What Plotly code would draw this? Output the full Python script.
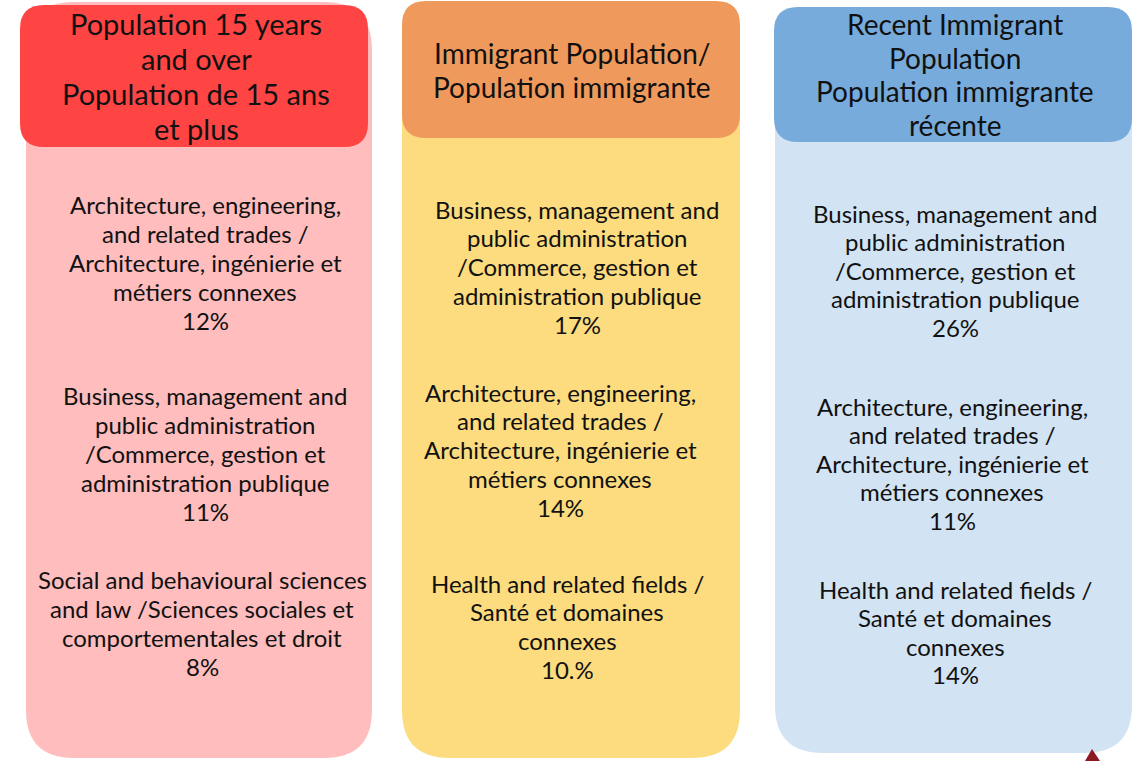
import plotly.graph_objects as go

# ---- data ----
groups = [
    "Population 15 years\nand over\nPopulation de 15 ans\net plus",
    "Immigrant Population/\nPopulation immigrante",
    "Recent Immigrant\nPopulation\nPopulation immigrante\nrécente",
]

fields_pop15 = [
    "Architecture, engineering,\nand related trades /\nArchitecture, ingénierie et\nmétiers connexes",
    "Business, management and\npublic administration\n/Commerce, gestion et\nadministration publique",
    "Social and behavioural sciences\nand law /Sciences sociales et\ncomportementales et droit",
]
pct_pop15 = ["12%", "11%", "8%"]

fields_immigrant = [
    "Business, management and\npublic administration\n/Commerce, gestion et\nadministration publique",
    "Architecture, engineering,\nand related trades /\nArchitecture, ingénierie et\nmétiers connexes",
    "Health and related fields /\nSanté et domaines\nconnexes",
]
pct_immigrant = ["17%", "14%", "10.%"]

fields_recent = [
    "Business, management and\npublic administration\n/Commerce, gestion et\nadministration publique",
    "Architecture, engineering,\nand related trades /\nArchitecture, ingénierie et\nmétiers connexes",
    "Health and related fields /\nSanté et domaines\nconnexes",
]
pct_recent = ["26%", "11%", "14%"]

# ---- layout / styling (pixel space) ----
W, H = 1145, 761
body_colors = ["#FFBDBD", "#FCDC7E", "#D2E3F3"]
head_colors = ["#FF4444", "#F0995C", "#77ABDC"]
body_boxes = [(26, 2, 372, 758), (402, 60, 740, 758), (775, 60, 1132, 753)]
head_boxes = [(20, 5, 368, 147), (402, 1, 740, 138), (774, 7, 1132, 142)]
head_x = [196, 572, 955]
head_y0 = [23, 53, 24]
head_step = [35, 34, 33.5]
head_size = [29, 28, 28]
block_x = [[205, 205, 202], [577, 560, 567], [955, 952, 955]]
block_y0 = [[204, 395, 579], [209, 392, 583], [213, 406, 589]]
block_step = [29, 28.8, 28.5]

FONT = "Lato, 'Open Sans', sans-serif"


def rounded(x0, y0, x1, y1, r):
    return (f"M {x0+r},{y0} L {x1-r},{y0} Q {x1},{y0} {x1},{y0+r} "
            f"L {x1},{y1-r} Q {x1},{y1} {x1-r},{y1} L {x0+r},{y1} "
            f"Q {x0},{y1} {x0},{y1-r} L {x0},{y0+r} Q {x0},{y0} {x0+r},{y0} Z")


fig = go.Figure()
shapes = []
annotations = []

columns = [(fields_pop15, pct_pop15), (fields_immigrant, pct_immigrant), (fields_recent, pct_recent)]

for i, (fields, pcts) in enumerate(columns):
    shapes.append(dict(type="path", xref="x", yref="y", path=rounded(*body_boxes[i], 48),
                       fillcolor=body_colors[i], line=dict(width=0), layer="below"))
    shapes.append(dict(type="path", xref="x", yref="y", path=rounded(*head_boxes[i], 24),
                       fillcolor=head_colors[i], line=dict(width=0), layer="below"))
    for k, line in enumerate(groups[i].split("\n")):
        annotations.append(dict(x=head_x[i], y=head_y0[i] + k * head_step[i], text=line,
                                xref="x", yref="y", showarrow=False, xanchor="center", yanchor="middle",
                                font=dict(family=FONT, size=head_size[i], color="#111111")))
    for j, (f, p) in enumerate(zip(fields, pcts)):
        lines = f.split("\n") + [p]
        for k, line in enumerate(lines):
            annotations.append(dict(x=block_x[i][j], y=block_y0[i][j] + k * block_step[i], text=line,
                                    xref="x", yref="y", showarrow=False, xanchor="center", yanchor="middle",
                                    font=dict(family=FONT, size=24, color="#111111")))

# small dark red mark at bottom right corner
shapes.append(dict(type="path", xref="x", yref="y", path="M 1092,749 L 1100,761 L 1085,761 Z",
                   fillcolor="#8B1A22", line=dict(width=0), layer="below"))

fig.update_layout(
    width=W, height=H,
    margin=dict(l=0, r=0, t=0, b=0),
    paper_bgcolor="white", plot_bgcolor="white",
    xaxis=dict(range=[0, W], visible=False, fixedrange=True),
    yaxis=dict(range=[H, 0], visible=False, fixedrange=True),
    shapes=shapes, annotations=annotations, showlegend=False,
)

fig.write_html("out.html", config={"displayModeBar": False},
               post_script="document.body.style.margin='0';document.body.style.overflow='hidden';")
